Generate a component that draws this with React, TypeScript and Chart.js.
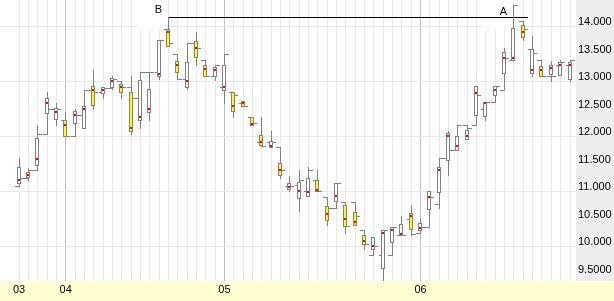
import React, { useEffect, useRef } from "react";
import { Chart, registerables } from "chart.js";

Chart.register(...registerables);

// ---- data ----
const monthLabels = ["03", "04", "05", "06"];
const monthStartIndex = [0, 5, 22, 43];
const yTickValues = [9.5, 10, 10.5, 11, 11.5, 12, 12.5, 13, 13.5, 14];

const opens = [
  11.091, 11.231, 11.382, 12.031, 12.491, 12.273, 12.0, 12.369, 12.836, 12.795,
  12.86, 13.0, 12.878, 12.678, 13.151, 13.151, 13.94, 13.485, 13.031, 13.685,
  13.376, 13.085, 12.885, 12.795, 12.595, 12.34, 11.885, 11.885, 11.795, 11.078,
  11.096, 10.987, 11.195, 10.885, 10.685, 10.8, 10.8, 10.291, 9.831, 9.831,
  9.831, 10.2, 10.485, 10.231, 10.34, 10.751, 11.6, 11.745, 12.2, 12.2,
  12.485, 12.605, 12.836, 13.369, 14.091, 13.564, 13.382, 13.091, 13.273, 13.273,
];
const highs = [
  11.6, 11.418, 12.2, 12.795, 12.595, 12.431, 12.491, 12.836, 13.2, 12.878,
  13.091, 13.0, 13.091, 13.151, 13.151, 13.745, 14.155, 13.485, 13.685, 13.891,
  13.376, 13.285, 13.491, 12.795, 12.631, 12.34, 12.34, 12.091, 11.795, 11.26,
  11.376, 11.431, 11.382, 10.885, 11.14, 10.8, 10.8, 10.291, 10.158, 10.291,
  10.34, 10.545, 10.745, 10.491, 10.987, 11.6, 12.091, 12.2, 12.2, 12.909,
  12.605, 12.897, 13.595, 14.382, 14.091, 13.805, 13.382, 13.351, 13.382, 13.382,
];
const lows = [
  11.078, 11.187, 11.369, 12.031, 12.187, 12.0, 12.0, 12.14, 12.473, 12.673,
  12.849, 12.673, 12.031, 12.14, 12.291, 13.036, 13.636, 13.031, 12.849, 13.285,
  13.085, 13.018, 12.587, 12.34, 12.54, 12.195, 11.805, 11.795, 11.231, 11.0,
  10.624, 10.896, 11.0, 10.369, 10.685, 10.231, 10.376, 9.94, 9.831, 9.369,
  9.831, 10.2, 10.2, 10.231, 10.34, 10.685, 11.278, 11.745, 11.94, 12.2,
  12.278, 12.605, 12.836, 13.369, 13.745, 13.078, 13.091, 13.0, 13.104, 12.987,
];
const closes = [
  11.231, 11.382, 12.031, 12.491, 12.491, 12.0, 12.369, 12.836, 12.795, 12.86,
  13.031, 12.878, 12.678, 13.151, 13.151, 13.745, 13.685, 13.031, 13.685, 13.587,
  13.085, 13.285, 13.491, 12.74, 12.54, 12.231, 11.805, 11.885, 11.369, 11.078,
  11.2, 11.376, 11.0, 10.678, 11.14, 10.358, 10.545, 10.031, 10.0, 10.291,
  10.34, 10.2, 10.213, 10.34, 10.878, 11.6, 11.745, 12.2, 12.14, 12.745,
  12.605, 12.897, 13.418, 14.382, 13.94, 13.504, 13.091, 13.091, 13.333, 13.382,
];
const boxTops = [
  11.431, 11.34, 11.958, 12.685, 12.504, 12.273, 12.442, 12.545, 12.909, 12.878,
  13.049, 12.94, 12.795, 13.013, 12.849, 13.745, 13.94, 13.358, 13.34, 13.722,
  13.285, 13.249, 13.285, 12.795, 12.631, 12.34, 12.013, 11.896, 11.504, 11.14,
  11.158, 11.231, 11.195, 10.722, 11.14, 10.74, 10.618, 10.195, 10.158, 10.291,
  10.34, 10.395, 10.595, 10.413, 10.987, 11.424, 12.049, 11.987, 12.109, 12.909,
  12.605, 12.897, 13.522, 13.958, 14.018, 13.564, 13.26, 13.278, 13.333, 13.333,
];
const boxBottoms = [
  11.14, 11.242, 11.467, 12.413, 12.304, 12.0, 12.231, 12.14, 12.558, 12.764,
  12.885, 12.795, 12.091, 12.291, 12.431, 13.085, 13.636, 13.158, 12.885, 13.431,
  13.085, 13.085, 12.831, 12.449, 12.54, 12.195, 11.831, 11.795, 11.273, 11.031,
  10.867, 10.896, 11.0, 10.467, 10.813, 10.358, 10.376, 10.031, 9.94, 9.595,
  10.067, 10.2, 10.304, 10.273, 10.655, 10.976, 11.551, 11.745, 11.94, 12.369,
  12.351, 12.733, 13.14, 13.369, 13.787, 13.14, 13.091, 13.127, 13.104, 13.036,
];
const dots = [
  11.187, 11.273, 11.564, 12.582, 12.424, 12.2, 12.369, 12.478, 12.824, 12.824,
  12.987, 12.878, 12.14, 12.333, 12.473, 13.127, 13.878, 13.278, 12.987, 13.587,
  13.218, 13.187, 12.873, 12.545, 12.582, 12.218, 11.878, 11.805, 11.369, 11.06,
  11.0, 10.982, 11.018, 10.564, 10.896, 10.473, 10.424, 10.078, 9.987, 10.224,
  10.278, 10.218, 10.533, 10.327, 10.873, 11.369, 11.987, 11.818, 11.987, 12.764,
  12.582, 12.824, 13.418, 13.413, 13.878, 13.187, 13.187, 13.224, 13.273, 13.273,
];
const highlighted = [
  0, 0, 0, 0, 0, 1, 0, 0, 1, 0,
  0, 1, 1, 0, 0, 0, 1, 1, 0, 1,
  1, 0, 0, 1, 1, 1, 1, 0, 1, 0,
  0, 0, 1, 1, 0, 1, 1, 1, 0, 0,
  0, 0, 1, 0, 0, 0, 0, 0, 0, 0,
  0, 0, 0, 0, 1, 0, 1, 0, 0, 0,
];

const resistanceLevel = 14.155;
const resistanceFrom = 16;
const resistanceTo = 54.5;
const annotationLabels = ["B", "A"];
const annotationIndex = [16, 53];
const annotationLevel = [14.296, 14.249];

// ---- styles ----
const FONT = "'Liberation Sans', Arial, sans-serif";
const GRID = "#e8e8e8";
const MONTH_GRID = "#c0c0c0";
const AXIS_BG = "#eeeeee";
const BAND_BG = "#ffffd2";
const CANDLE = "#808080";
const BODY_HL = "#ffff00";
const BODY = "#ffffff";
const DOT = "#ff0000";

const SLOT = 551 / 59;
const X_MIN = -19 / SLOT;
const X_MAX = X_MIN + 576 / SLOT;
const Y_MAX = 14 + 26.01 / 55;
const Y_MIN = Y_MAX - 281 / 55;

const col = (p: number) => Math.round(p - 0.5);

const candlePlugin = {
  id: "candlePlugin",
  beforeDraw(chart: any) {
    const { ctx, chartArea, width, height } = chart;
    ctx.save();
    ctx.fillStyle = "#ffffff";
    ctx.fillRect(0, 0, width, height);
    ctx.fillStyle = BAND_BG;
    ctx.fillRect(0, chartArea.bottom, width, height - chartArea.bottom);
    ctx.fillStyle = AXIS_BG;
    ctx.fillRect(chartArea.right, 0, width - chartArea.right, chartArea.bottom);
    ctx.restore();
  },
  beforeDatasetsDraw(chart: any) {
    const { ctx } = chart;
    const xs = chart.scales.x;
    const ys = chart.scales.y;
    ctx.save();
    annotationLabels.forEach((lab, k) => {
      const x = col(xs.getPixelForValue(annotationIndex[k]));
      const tr = x - 6;
      ctx.fillStyle = "#ffffff";
      ctx.fillRect(tr - 24, 0, 28, 30);
      ctx.fillStyle = "#000000";
      ctx.font = `11px ${FONT}`;
      ctx.textAlign = "right";
      ctx.textBaseline = "middle";
      ctx.fillText(lab, tr, ys.getPixelForValue(annotationLevel[k]));
    });
    ctx.restore();
  },
  afterDatasetsDraw(chart: any) {
    const { ctx } = chart;
    const xs = chart.scales.x;
    const ys = chart.scales.y;
    const py = (v: number) => col(ys.getPixelForValue(v));
    ctx.save();
    for (let i = 0; i < opens.length; i++) {
      const x = col(xs.getPixelForValue(i));
      const hi = py(highs[i]);
      const lo = py(lows[i]);
      const o = py(opens[i]);
      const c = py(closes[i]);
      const bt = py(boxTops[i]);
      const bb = py(boxBottoms[i]);
      const d = py(dots[i]);
      ctx.fillStyle = CANDLE;
      ctx.fillRect(x, hi, 1, lo - hi + 1);
      ctx.fillRect(x - 4, o, 4, 1);
      ctx.fillRect(x + 1, c, 4, 1);
      ctx.fillRect(x - 2, bt, 4, bb - bt + 1);
      ctx.fillStyle = highlighted[i] ? BODY_HL : BODY;
      if (bb - bt - 1 > 0) ctx.fillRect(x - 1, bt + 1, 2, bb - bt - 1);
      ctx.fillStyle = DOT;
      ctx.fillRect(x - 1, d - 1, 2, 2);
    }
    ctx.restore();
  },
};

export default function App() {
  const ref = useRef<HTMLCanvasElement | null>(null);
  useEffect(() => {
    if (!ref.current) return;
    Chart.defaults.font.family = FONT;
    Chart.defaults.font.size = 11;
    Chart.defaults.color = "#000000";
    const chart = new Chart(ref.current, {
      type: "line",
      data: {
        datasets: [
          {
            label: "resistance",
            data: [
              { x: resistanceFrom, y: resistanceLevel },
              { x: resistanceTo, y: resistanceLevel },
            ],
            borderColor: "#000000",
            borderWidth: 1,
            pointRadius: 0,
            fill: false,
          },
        ],
      },
      options: {
        animation: false,
        responsive: false,
        maintainAspectRatio: false,
        devicePixelRatio: 1,
        layout: { padding: 0 },
        plugins: { legend: { display: false }, tooltip: { enabled: false } },
        scales: {
          x: {
            type: "linear",
            position: "bottom",
            min: X_MIN,
            max: X_MAX,
            afterBuildTicks: (axis: any) => {
              axis.ticks = opens.map((_, i) => ({ value: i }));
            },
            afterFit: (axis: any) => {
              axis.height = 20;
              axis.paddingLeft = 0;
              axis.paddingRight = 0;
            },
            ticks: {
              autoSkip: false,
              maxRotation: 0,
              minRotation: 0,
              padding: 2,
              font: { size: 11, family: FONT },
              color: "#000000",
              callback: (value: any) => {
                const k = monthStartIndex.indexOf(Number(value));
                return k >= 0 ? monthLabels[k] : "";
              },
            },
            grid: {
              drawTicks: false,
              color: (ctx: any) =>
                ctx.tick && monthStartIndex.slice(1).includes(ctx.tick.value) ? MONTH_GRID : GRID,
            },
            border: { display: false },
          },
          y: {
            type: "linear",
            position: "right",
            min: Y_MIN,
            max: Y_MAX,
            afterBuildTicks: (axis: any) => {
              axis.ticks = yTickValues.map((v) => ({ value: v }));
            },
            afterFit: (axis: any) => {
              axis.width = 38;
              axis.paddingTop = 0;
              axis.paddingBottom = 0;
            },
            ticks: {
              padding: 2,
              labelOffset: -4,
              font: { size: 11, family: FONT },
              color: "#000000",
              callback: (value: any) => Number(value).toPrecision(5),
            },
            grid: {
              drawTicks: false,
              color: (ctx: any) =>
                ctx.tick && Number.isInteger(ctx.tick.value) ? GRID : "rgba(0,0,0,0)",
            },
            border: { display: false },
          },
        },
      },
      plugins: [candlePlugin],
    });
    return () => chart.destroy();
  }, []);
  return (
    <div style={{ position: "fixed", left: 0, top: 0, width: 614, height: 301 }}>
      <canvas ref={ref} width={614} height={301} style={{ display: "block" }} />
    </div>
  );
}
